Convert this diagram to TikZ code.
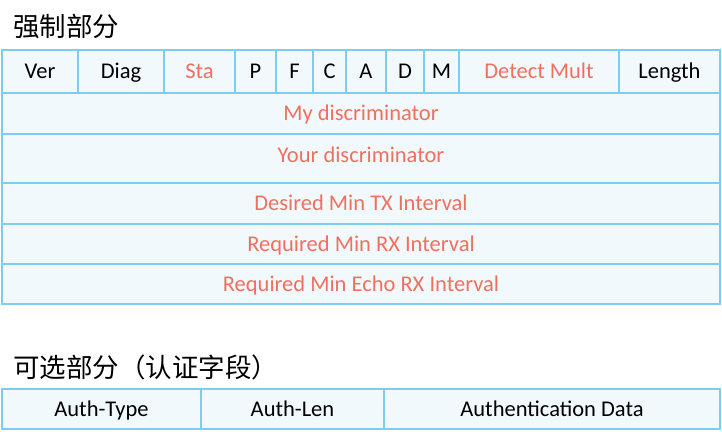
\documentclass[tikz,border=0pt]{standalone}
\usepackage{fontspec}
\usepackage{tikz}
\setmainfont{Carlito}
\newfontfamily\cjk{Noto Sans CJK SC}
\definecolor{lblue}{RGB}{125, 205, 240}
\definecolor{cellbg}{RGB}{242, 249, 253}
\definecolor{mred}{RGB}{240, 112, 96}

\begin{document}
\begin{tikzpicture}[x=1pt, y=-1pt,
    cell/.style={draw=lblue, line width=2pt, fill=cellbg, inner sep=0pt,
      text height=14pt, text depth=0pt, font=\fontsize{22.5}{26}\selectfont},
    hot/.style={cell, text=mred},
    heading/.style={anchor=base west, inner sep=0pt, font=\cjk\fontsize{26.5}{30}\selectfont}]
    \useasboundingbox (0, 0) rectangle (722, 431);

    \node [heading] (must) at (13, 36) {强制部分};

    \node [cell, minimum width=76, minimum height=43] (ver) at (40, 71.5) {Ver};
    \node [cell, minimum width=86, minimum height=43] (diag) at (121, 71.5) {Diag};
    \node [hot, minimum width=71, minimum height=43] (sta) at (199.5, 71.5) {Sta};
    \node [cell, minimum width=41, minimum height=43] (p) at (255.5, 71.5) {P};
    \node [cell, minimum width=37, minimum height=43] (f) at (294.5, 71.5) {F};
    \node [cell, minimum width=33, minimum height=43] (c) at (329.5, 71.5) {C};
    \node [cell, minimum width=40, minimum height=43] (a) at (366, 71.5) {A};
    \node [cell, minimum width=38, minimum height=43] (d) at (405, 71.5) {D};
    \node [cell, minimum width=35, minimum height=43] (m) at (441.5, 71.5) {M};
    \node [hot, minimum width=160, minimum height=43] (mult) at (539, 71.5) {Detect Mult};
    \node [cell, minimum width=101, minimum height=43] (len) at (669.5, 71.5) {Length};

    \node [hot, minimum width=718, minimum height=41] (mydisc) at (361, 113.5) {My discriminator};
    \node [hot, minimum width=718, minimum height=49] (yourdisc) at (361, 158.5) {};
    \node [text=mred, inner sep=0pt, text height=14pt, text depth=0pt,
      font=\fontsize{22.5}{26}\selectfont] (yourtxt) at (361, 155) {Your discriminator};
    \node [hot, minimum width=718, minimum height=41] (mintx) at (361, 203.5) {Desired Min TX Interval};
    \node [hot, minimum width=718, minimum height=40] (minrx) at (361, 244) {Required Min RX Interval};
    \node [hot, minimum width=718, minimum height=40] (echorx) at (361, 284) {Required Min Echo RX Interval};

    \node [heading] (opt) at (13, 377) {可选部分（认证字段）};

    \node [cell, minimum width=199, minimum height=40] (atype) at (101.5, 409) {Auth-Type};
    \node [cell, minimum width=183, minimum height=40] (alen) at (292.5, 409) {Auth-Len};
    \node [cell, minimum width=336, minimum height=40] (adata) at (552, 409) {Authentication Data};
  \end{tikzpicture}
\end{document}
